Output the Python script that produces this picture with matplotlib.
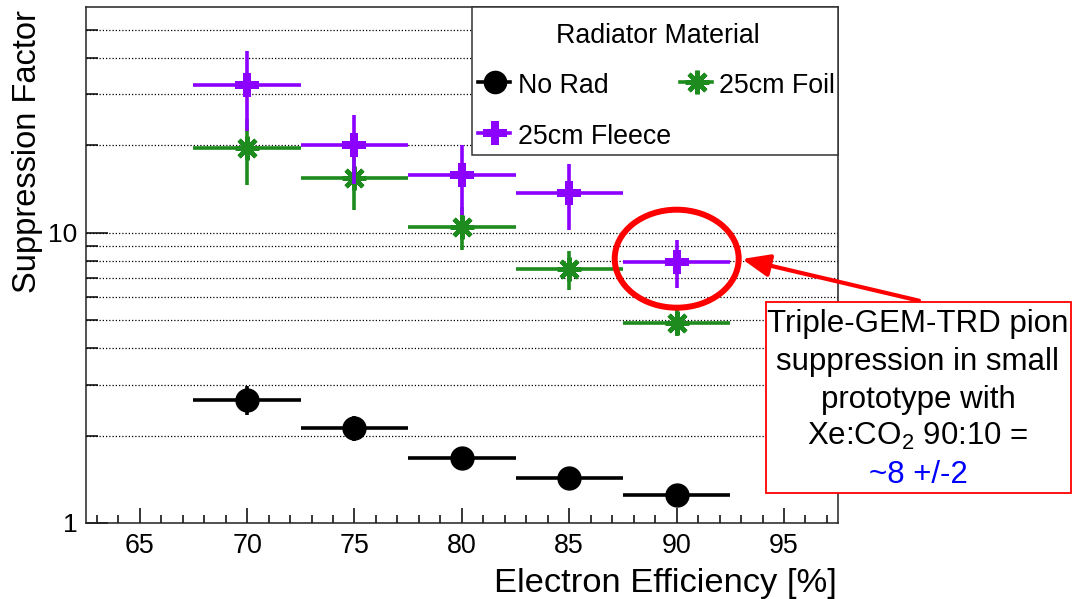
import matplotlib
matplotlib.use('Agg')
import matplotlib.pyplot as plt
from matplotlib.patches import Rectangle, Ellipse, FancyArrowPatch
from matplotlib.lines import Line2D
from matplotlib.ticker import MultipleLocator, FixedLocator, FixedFormatter, NullFormatter

plt.rcParams['font.family'] = ['Liberation Sans', 'DejaVu Sans']
plt.rcParams['mathtext.fontset'] = 'custom'
plt.rcParams['mathtext.rm'] = 'Liberation Sans'
plt.rcParams['mathtext.it'] = 'Liberation Sans:italic'

# ---------------- data ----------------
efficiency = [70, 75, 80, 85, 90]
eff_halfwidth = [2.5, 2.5, 2.5, 2.5, 2.5]

norad = [2.66, 2.13, 1.68, 1.43, 1.25]
norad_err = [0.30, 0.21, 0.08, 0.06, 0.05]

foil = [19.6, 15.4, 10.5, 7.49, 4.9]
foil_err = [5.0, 3.4, 1.8, 1.15, 0.5]

fleece = [32.4, 20.1, 15.85, 13.7, 7.93]
fleece_err = [10.0, 5.4, 4.3, 3.5, 1.5]

x_ticks = [65, 70, 75, 80, 85, 90, 95]
y_ticks = [1, 10]
y_ticklabels = ['1', '10']
y_minor = [2, 3, 4, 5, 6, 7, 8, 9, 20, 30, 40, 50]

labels = ['No Rad', '25cm Foil', '25cm Fleece']
legend_title = 'Radiator Material'
note_lines = ['Triple-GEM-TRD pion', 'suppression in small', 'prototype with',
              r'Xe:CO$_2$ 90:10 =', '~8 +/-2']

BLACK = 'black'
GREEN = '#1e8b1e'
PURPLE = '#8c00ff'

W, H = 1072, 599
fig = plt.figure(figsize=(W / 100, H / 100), dpi=100)
def fx(x):
    return x / W
def fy(y):
    return 1 - y / H

ax = fig.add_axes([fx(86), fy(523), (837.7 - 86) / W, (523 - 7) / H])
ax.set_yscale('log')
ax.set_xlim(62.5, 97.5)
ax.set_ylim(1, 60)

# grid
ax.yaxis.set_major_locator(FixedLocator(y_ticks))
ax.yaxis.set_major_formatter(FixedFormatter(y_ticklabels))
ax.yaxis.set_minor_locator(FixedLocator(y_minor))
ax.yaxis.set_minor_formatter(NullFormatter())
ax.xaxis.set_major_locator(FixedLocator(x_ticks))
ax.xaxis.set_minor_locator(MultipleLocator(1))
ax.grid(True, axis='y', which='both', color='black', linestyle=(0, (1, 1.6)), linewidth=0.9, zorder=0)
ax.set_axisbelow(True)

ax.tick_params(axis='x', which='major', direction='in', length=10.5, width=1.1, labelsize=19.4, pad=7)
ax.tick_params(axis='x', which='minor', direction='in', length=5.5, width=1.1)
ax.tick_params(axis='y', which='major', direction='in', length=16, width=1.1, labelsize=19, pad=6)
ax.tick_params(axis='y', which='minor', direction='in', length=8.5, width=1.1)
for s in ax.spines.values():
    s.set_linewidth(1.1)
    s.set_color('#222222')

# data
ax.errorbar(efficiency, norad, xerr=eff_halfwidth, yerr=norad_err, fmt='none',
            ecolor=BLACK, elinewidth=2.6, capsize=0, zorder=3)
ax.plot(efficiency, norad, ls='none', marker='o', ms=16.5, color=BLACK, zorder=3.5)

ax.errorbar(efficiency, foil, xerr=eff_halfwidth, yerr=foil_err, fmt='none',
            ecolor=GREEN, elinewidth=2.6, capsize=0, zorder=4)
ax.plot(efficiency, foil, ls='none', marker=(8, 2, 0), ms=17, mew=3.2, color=GREEN, zorder=4.5)

ax.errorbar(efficiency, fleece, xerr=eff_halfwidth, yerr=fleece_err, fmt='none',
            ecolor=PURPLE, elinewidth=2.6, capsize=0, zorder=5)
ax.plot(efficiency, fleece, ls='none', marker='P', ms=17, color=PURPLE, mew=0, zorder=5.5)

# axis labels
fig.text(fx(28), fy(10), 'Suppression Factor', rotation=90, ha='center', va='top', fontsize=23.5)
fig.text(fx(837), fy(591.7), 'Electron Efficiency [%]', ha='right', va='baseline', fontsize=24.8)

# legend (manual, ROOT style)
fig.add_artist(Rectangle((fx(472), fy(155)), (837.7 - 472) / W, (155 - 7) / H,
                         transform=fig.transFigure, fc='white', ec='#333333', lw=1.1, zorder=10))
fig.text(fx(658), fy(42.7), legend_title, ha='center', va='baseline', fontsize=19.3, zorder=11)
entries = [(495, 82, BLACK, 'o', labels[0], 518),
           (697, 82, GREEN, (8, 2, 0), labels[1], 719),
           (495, 133, PURPLE, 'P', labels[2], 518)]
for (mx, my, c, m, lab, tx) in entries:
    fig.add_artist(Line2D([fx(mx - 17), fx(mx + 15)], [fy(my), fy(my)], color=c, lw=2.6,
                          transform=fig.transFigure, zorder=11))
    if m == (8, 2, 0):
        fig.add_artist(Line2D([fx(mx)], [fy(my)], marker=m, ms=17, mew=3.2, color=c,
                              transform=fig.transFigure, zorder=12))
    else:
        fig.add_artist(Line2D([fx(mx)], [fy(my)], marker=m, ms=17, mew=0, color=c,
                              transform=fig.transFigure, zorder=12))
    fig.text(fx(tx), fy(my + 10.7), lab, ha='left', va='baseline', fontsize=19.3, zorder=12)

# highlight ellipse and arrow
fig.add_artist(Ellipse((fx(676.7), fy(258.7)), 124 / W, 98 / H, transform=fig.transFigure,
                       fill=False, ec='#ff0000', lw=4.3, zorder=9))
fig.add_artist(FancyArrowPatch((fx(919), fy(300.7)), (fx(742), fy(259)), transform=fig.transFigure,
                               arrowstyle='-|>,head_length=0.83,head_width=0.34', mutation_scale=20,
                               color='#ff0000', lw=3, shrinkA=0, shrinkB=0, zorder=9))

# note box
fig.add_artist(Rectangle((fx(765.7), fy(493)), (1071 - 765.7) / W, (493 - 301.7) / H,
                         transform=fig.transFigure, fc='white', ec='#ff0000', lw=1.3, zorder=10))
baselines = [331.7, 370, 408, 445, 483.3]
for i, (line, b) in enumerate(zip(note_lines, baselines)):
    fig.text(fx(918), fy(b), line, ha='center', va='baseline', fontsize=22.5,
             color='#0000ff' if i == len(note_lines) - 1 else 'black', zorder=11)

fig.savefig('out.png', dpi=100)
